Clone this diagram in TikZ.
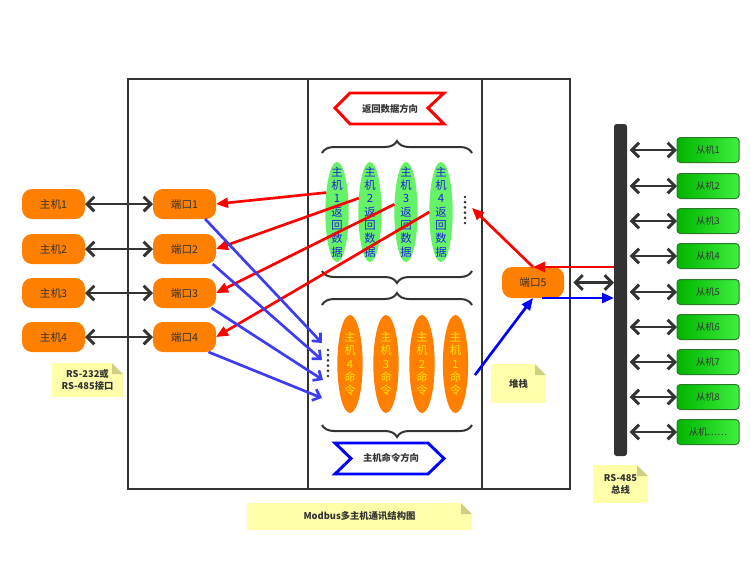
\documentclass[tikz,border=0pt]{standalone}
\usepackage{fontspec}
\setmainfont{Noto Sans CJK SC}
\usetikzlibrary{arrows.meta,shapes.geometric,decorations.pathreplacing,calc}
\definecolor{dk}{HTML}{333333}
\definecolor{org}{HTML}{FF8000}
\definecolor{grn}{HTML}{66F266}
\definecolor{gtext}{HTML}{2020E0}
\definecolor{otext}{HTML}{FFE400}
\definecolor{notey}{HTML}{FFFFAA}
\definecolor{foldc}{HTML}{CFCF86}
\definecolor{lblue}{HTML}{3C3CF5}
\definecolor{sgl}{HTML}{00B400}
\definecolor{sgr}{HTML}{40F040}
\definecolor{sgb}{HTML}{2A7A2A}
\newcommand\tightlines{\lineskiplimit=-20pt\relax}
\newcommand\dogear[1]{%
  \fill[white] ($(#1.north east)+(-11,0)$) -- (#1.north east) -- ($(#1.north east)+(0,11)$) -- cycle;
  \fill[foldc] ($(#1.north east)+(-11,0)$) -- ($(#1.north east)+(-11,11)$) -- ($(#1.north east)+(0,11)$) -- cycle;}
\begin{document}
\begin{tikzpicture}[x=0.75pt,y=-0.75pt,
  host/.style={rectangle, rounded corners=7.5pt, fill=org, minimum width=47.25pt, minimum height=22.5pt, inner sep=0pt, outer sep=0pt, text=dk, font=\fontsize{8}{9}\selectfont},
  slave/.style={rectangle, rounded corners=2.5pt, draw=sgb, line width=0.75pt, left color=sgl, right color=sgr, minimum width=46.5pt, minimum height=18.75pt, inner sep=0pt, outer sep=0pt, text=dk, font=\fontsize{7}{8}\selectfont},
  gell/.style={ellipse, fill=grn, minimum width=17.5pt, minimum height=75pt, inner sep=0pt, outer sep=0pt},
  oell/.style={ellipse, fill=org, minimum width=19pt, minimum height=73.5pt, inner sep=0pt, outer sep=0pt},
  gtxt/.style={text=gtext, align=center, font=\fontsize{8.5}{10}\selectfont\tightlines, inner sep=0pt},
  otxt/.style={text=otext, align=center, font=\fontsize{8.5}{10}\selectfont\tightlines, inner sep=0pt},
  dbl/.style={draw=dk, line width=2.2pt, {Straight Barb[length=5.5pt,width=11pt]}-{Straight Barb[length=5.5pt,width=11pt]}},
  redarr/.style={draw=red, line width=2pt, -{Triangle[length=9pt,width=7.5pt]}},
  blarr/.style={draw=lblue, line width=2pt, -{Straight Barb[length=5pt,width=9pt]}},
  bfarr/.style={draw=blue, line width=2pt, -{Triangle[length=9pt,width=7.5pt]}},
  brc/.style={draw=dk, line width=1.5pt, decorate, decoration={brace, amplitude=9pt}},
  note/.style={rectangle, fill=notey, inner sep=0pt, outer sep=0pt, text=dk, align=center, font=\bfseries\fontsize{7}{9}\selectfont},
  dirtxt/.style={text=dk, inner sep=0pt, font=\bfseries\fontsize{7}{8}\selectfont}]
\useasboundingbox (0,0) rectangle (751,562);
\fill[white] (0,0) rectangle (751,562);
% frame
\draw[dk, line width=1.9pt] (128,79) rectangle (570,489);
\draw[dk, line width=1.9pt] (308,79) -- (308,489);
\draw[dk, line width=1.9pt] (482,79) -- (482,489);
% hosts and ports
\node[host] (h1) at (53.5,204) {主机1};
\node[host] (h2) at (53.5,249) {主机2};
\node[host] (h3) at (53.5,293) {主机3};
\node[host] (h4) at (53.5,337) {主机4};
\node[host] (p1) at (184.5,204) {端口1};
\node[host] (p2) at (184.5,249) {端口2};
\node[host] (p3) at (184.5,293) {端口3};
\node[host] (p4) at (184.5,337) {端口4};
\node[host, minimum width=46.5pt, minimum height=23.25pt] (p5) at (533,282.5) {端口5};
\draw[dbl] (h1) -- (p1);
\draw[dbl] (h2) -- (p2);
\draw[dbl] (h3) -- (p3);
\draw[dbl] (h4) -- (p4);
% direction arrows
\draw[red, line width=2.2pt, line join=miter] (335,108) -- (350,93) -- (444,93) -- (428,108) -- (444,124) -- (350,124) -- cycle;
\node[dirtxt] (rdir) at (390,108.5) {返回数据方向};
\draw[blue, line width=2.2pt, line join=miter] (335,443) -- (428,443) -- (444,458.5) -- (428,474) -- (335,474) -- (351,458.5) -- cycle;
\node[dirtxt] (bdir) at (391,458) {主机命令方向};
% braces
\draw[brc] (322,153) -- (472,153);
\draw[brc] (472,271) -- (322,271);
\draw[brc] (322,305) -- (472,305);
\draw[brc] (472,425) -- (322,425);
% green ellipses
\node[gell] (g1) at (337,212) {};
\node[gell] (g2) at (370,212) {};
\node[gell] (g3) at (406,212) {};
\node[gell] (g4) at (441,212) {};
\node[gtxt] (g1t) at (g1) {主\\机\\1\\返\\回\\数\\据};
\node[gtxt] (g2t) at (g2) {主\\机\\2\\返\\回\\数\\据};
\node[gtxt] (g3t) at (g3) {主\\机\\3\\返\\回\\数\\据};
\node[gtxt] (g4t) at (g4) {主\\机\\4\\返\\回\\数\\据};
% orange ellipses
\node[oell] (o4) at (350,364) {};
\node[oell] (o3) at (386,364) {};
\node[oell] (o2) at (422,364) {};
\node[oell] (o1) at (455.5,364) {};
\node[otxt] (o4t) at (o4) {主\\机\\4\\命\\令};
\node[otxt] (o3t) at (o3) {主\\机\\3\\命\\令};
\node[otxt] (o2t) at (o2) {主\\机\\2\\命\\令};
\node[otxt] (o1t) at (o1) {主\\机\\1\\命\\令};
% dots
\draw[dk, line width=2.2pt, line cap=round, dash pattern=on 0pt off 3.9pt] (465,197) -- (465,228);
\draw[dk, line width=2.2pt, line cap=round, dash pattern=on 0pt off 3.9pt] (328,350) -- (328,381);
% bus
\node[rectangle, fill=dk, rounded corners=2pt, minimum width=9.75pt, minimum height=249pt, inner sep=0pt, outer sep=0pt] (bus) at (620.5,290) {};
% slaves
\node[slave] (s1) at (708,150) {从机1};
\node[slave] (s2) at (708,186) {从机2};
\node[slave] (s3) at (708,221) {从机3};
\node[slave] (s4) at (708,256) {从机4};
\node[slave] (s5) at (708,292) {从机5};
\node[slave] (s6) at (708,327) {从机6};
\node[slave] (s7) at (708,362) {从机7};
\node[slave] (s8) at (708,397) {从机8};
\node[slave] (s9) at (708,432) {从机……};
\foreach \i in {1,...,9}{\draw[dbl, shorten <=2pt] (bus.east |- s\i.west) -- (s\i.west);}
\draw[dbl, shorten <=7pt] (p5.east) -- (bus.west |- p5.east);
% red return arrows
\draw[redarr] (g1.119) -- (p1.east);
\draw[redarr] (g2.129) -- (p2.east);
\draw[redarr] (g3.146) -- (p3.east);
\draw[redarr] (g4.west) -- (p4.east);
\coordinate (dgt) at (472,208);
\draw[redarr] (bus.west |- p5.north) -- (p5.north);
\draw[redarr] (p5.north) -- (dgt);
% blue command arrows
\coordinate (c1) at (322,343);
\coordinate (c2) at (322,360);
\coordinate (c3) at (323,380);
\coordinate (c4) at (322,398);
\draw[blarr] (p1.-36) -- (c1);
\draw[blarr] (p2.-28) -- (c2);
\draw[blarr] (p3.-29) -- (c3);
\draw[blarr] (p4.-32) -- (c4);
\coordinate (b0) at (475,375);
\draw[bfarr] (b0) -- (p5.south);
\draw[bfarr] (p5.-60) -- (bus.west |- p5.-60);
% notes
\node[note, minimum width=53.25pt, minimum height=25.5pt] (n1) at (87.5,380) {RS-232或\\RS-485接口};
\dogear{n1}
\node[note, minimum width=41.25pt, minimum height=29.25pt] (n2) at (518.5,383.5) {堆栈};
\dogear{n2}
\node[note, minimum width=41.25pt, minimum height=28.5pt] (n3) at (620.5,484) {RS-485\\总线};
\dogear{n3}
\node[note, minimum width=168.75pt, minimum height=20.25pt] (n4) at (359.5,516.5) {Modbus多主机通讯结构图};
\dogear{n4}
\end{tikzpicture}
\end{document}
